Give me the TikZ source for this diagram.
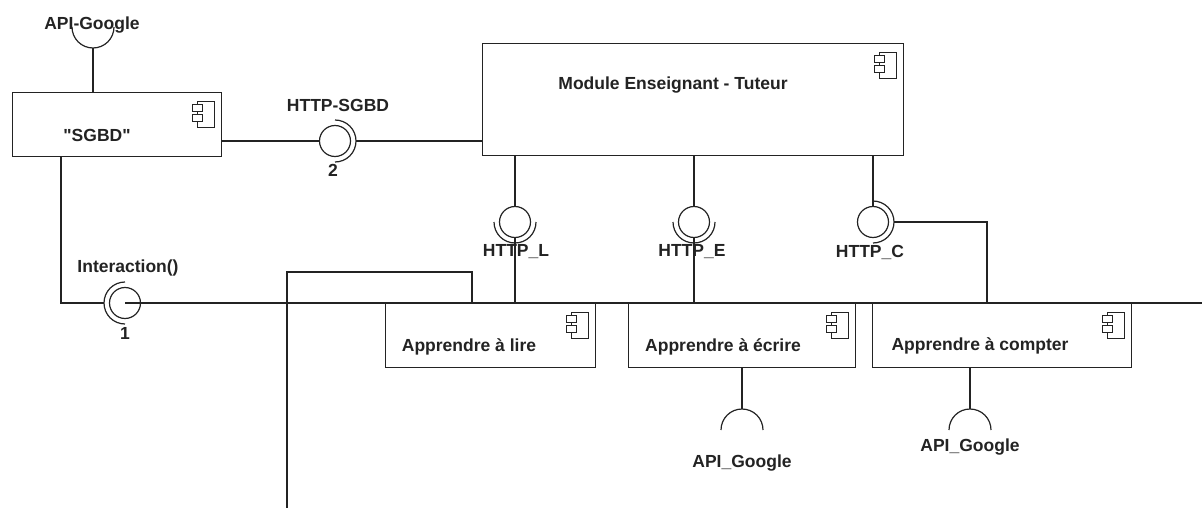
\documentclass[tikz,border=0pt]{standalone}
\usepackage{fontspec}
\setmainfont{Liberation Sans}
\usepackage{xcolor}
\usepackage{tikz}
\definecolor{umlInk}{RGB}{35,35,35}
\tikzset{
  compbox/.style={draw=umlInk, line width=1.2pt, fill=white, rectangle, inner sep=0pt, anchor=north west},
  ball/.style={draw=umlInk, line width=1.2pt, circle, inner sep=0pt, minimum size=31pt},
  lbl/.style={font=\bfseries\fontsize{17.5}{20}\selectfont, text=umlInk, inner sep=0pt},
  compicon/.pic={
    \draw[umlInk, line width=0.9pt] (-8.5,-13) rectangle (8.5,13);
    \draw[umlInk, line width=0.9pt, fill=white] (-13.5,-10) rectangle (-3.5,-3);
    \draw[umlInk, line width=0.9pt, fill=white] (-13.5,0) rectangle (-3.5,7);
  }}

\begin{document}
\begin{tikzpicture}[x=1pt, y=-1pt, line width=1.2pt, draw=umlInk]
\useasboundingbox (0,0) rectangle (1202,508);
% ====== components ======
\node[compbox, minimum width=209pt, minimum height=64pt] (sgbd) at (12,92) {};
\node[compbox, minimum width=421pt, minimum height=112pt] (module) at (482,43) {};
\node[compbox, minimum width=210pt, minimum height=64pt] (lire) at (385,303) {};
\node[compbox, minimum width=227pt, minimum height=64pt] (ecrire) at (628,303) {};
\node[compbox, minimum width=259pt, minimum height=64pt] (compter) at (872,303) {};
\pic at ([shift={(-16.5,22)}]sgbd.north east) {compicon};
\pic at ([shift={(-16.5,22)}]module.north east) {compicon};
\pic at ([shift={(-16.5,22)}]lire.north east) {compicon};
\pic at ([shift={(-16.5,22)}]ecrire.north east) {compicon};
\pic at ([shift={(-16.5,22)}]compter.north east) {compicon};
\node[lbl] (sgbdtxt) at (97,135) {\textquotedbl SGBD\textquotedbl};
\node[lbl] (moduletxt) at (673,85) {Module Enseignant - Tuteur};
\node[lbl] (liretxt) at (469,347) {Apprendre à lire};
\node[lbl] (ecriretxt) at (723,347) {Apprendre à écrire};
\node[lbl] (comptertxt) at (980,346) {Apprendre à compter};
% ====== provided interfaces (balls) ======
\node[ball] (bsgbd) at (335,141) {};
\node[ball] (binter) at (125,303) {};
\node[ball] (bl) at (515,222) {};
\node[ball] (be) at (694,222) {};
\node[ball] (bc) at (873,222) {};
% ====== required interfaces (sockets) ======
\coordinate (sgoogle) at (93,27);
\coordinate (egoogle) at (742,430);
\coordinate (cgoogle) at (970,430);
\draw ([shift={(-21,0)}]sgoogle) arc[start angle=180, end angle=0, radius=21];
\draw ([shift={(-21,0)}]egoogle) arc[start angle=180, end angle=360, radius=21];
\draw ([shift={(-21,0)}]cgoogle) arc[start angle=180, end angle=360, radius=21];
\draw ([shift={(0,-21)}]bsgbd.center) arc[start angle=-90, end angle=90, radius=21];
\draw ([shift={(0,-21)}]bc.center) arc[start angle=-90, end angle=90, radius=21];
\draw ([shift={(-21,0)}]bl.center) arc[start angle=180, end angle=0, radius=21];
\draw ([shift={(-21,0)}]be.center) arc[start angle=180, end angle=0, radius=21];
\draw ([shift={(0,-21)}]binter.center) arc[start angle=-90, end angle=-270, radius=21];
% ====== connectors ======
\coordinate (busend) at (1202,303);
\coordinate (cdrop) at (987,303);
\coordinate (loopa) at (287,508);
\coordinate (loopc) at (287,272);
\coordinate (loopb) at (472,303);
\draw ([yshift=-21pt]sgoogle) -- (sgoogle |- sgbd.north);
\draw (sgbd.east |- bsgbd) -- (bsgbd.west);
\draw ([xshift=21pt]bsgbd.center) -- (bsgbd -| module.west);
\draw (bl |- module.south) -- (bl.north);
\draw (be |- module.south) -- (be.north);
\draw (bc |- module.south) -- (bc.north);
\draw (bl.south) -- (bl |- lire.north);
\draw (be.south) -- (be |- ecrire.north);
\draw ([xshift=21pt]bc.center) -| (cdrop);
\draw ([xshift=49pt]sgbd.south west) |- ([xshift=-21pt]binter.center);
\draw (binter.center) -- (busend);
\draw (loopa) -- (loopc) -| (loopb);
\draw (egoogle |- ecrire.south) -- ([yshift=21pt]egoogle);
\draw (cgoogle |- compter.south) -- ([yshift=21pt]cgoogle);
% ====== labels ======
\node[lbl] (lsgoogle) at (92,25) {API-Google};
\node[lbl] (lhttpsgbd) at (338,105) {HTTP-SGBD};
\node[lbl] (lmult2) at (333,170) {2};
\node[lbl] (linter) at (128,268) {Interaction()};
\node[lbl] (lmult1) at (125,333) {1};
\node[lbl] (lhttpl) at (516,252) {HTTP\_L};
\node[lbl] (lhttpe) at (692,252) {HTTP\_E};
\node[lbl] (lhttpc) at (870,252) {HTTP\_C};
\node[lbl] (legoogle) at (742,463) {API\_Google};
\node[lbl] (lcgoogle) at (970,447) {API\_Google};
\end{tikzpicture}
\end{document}
